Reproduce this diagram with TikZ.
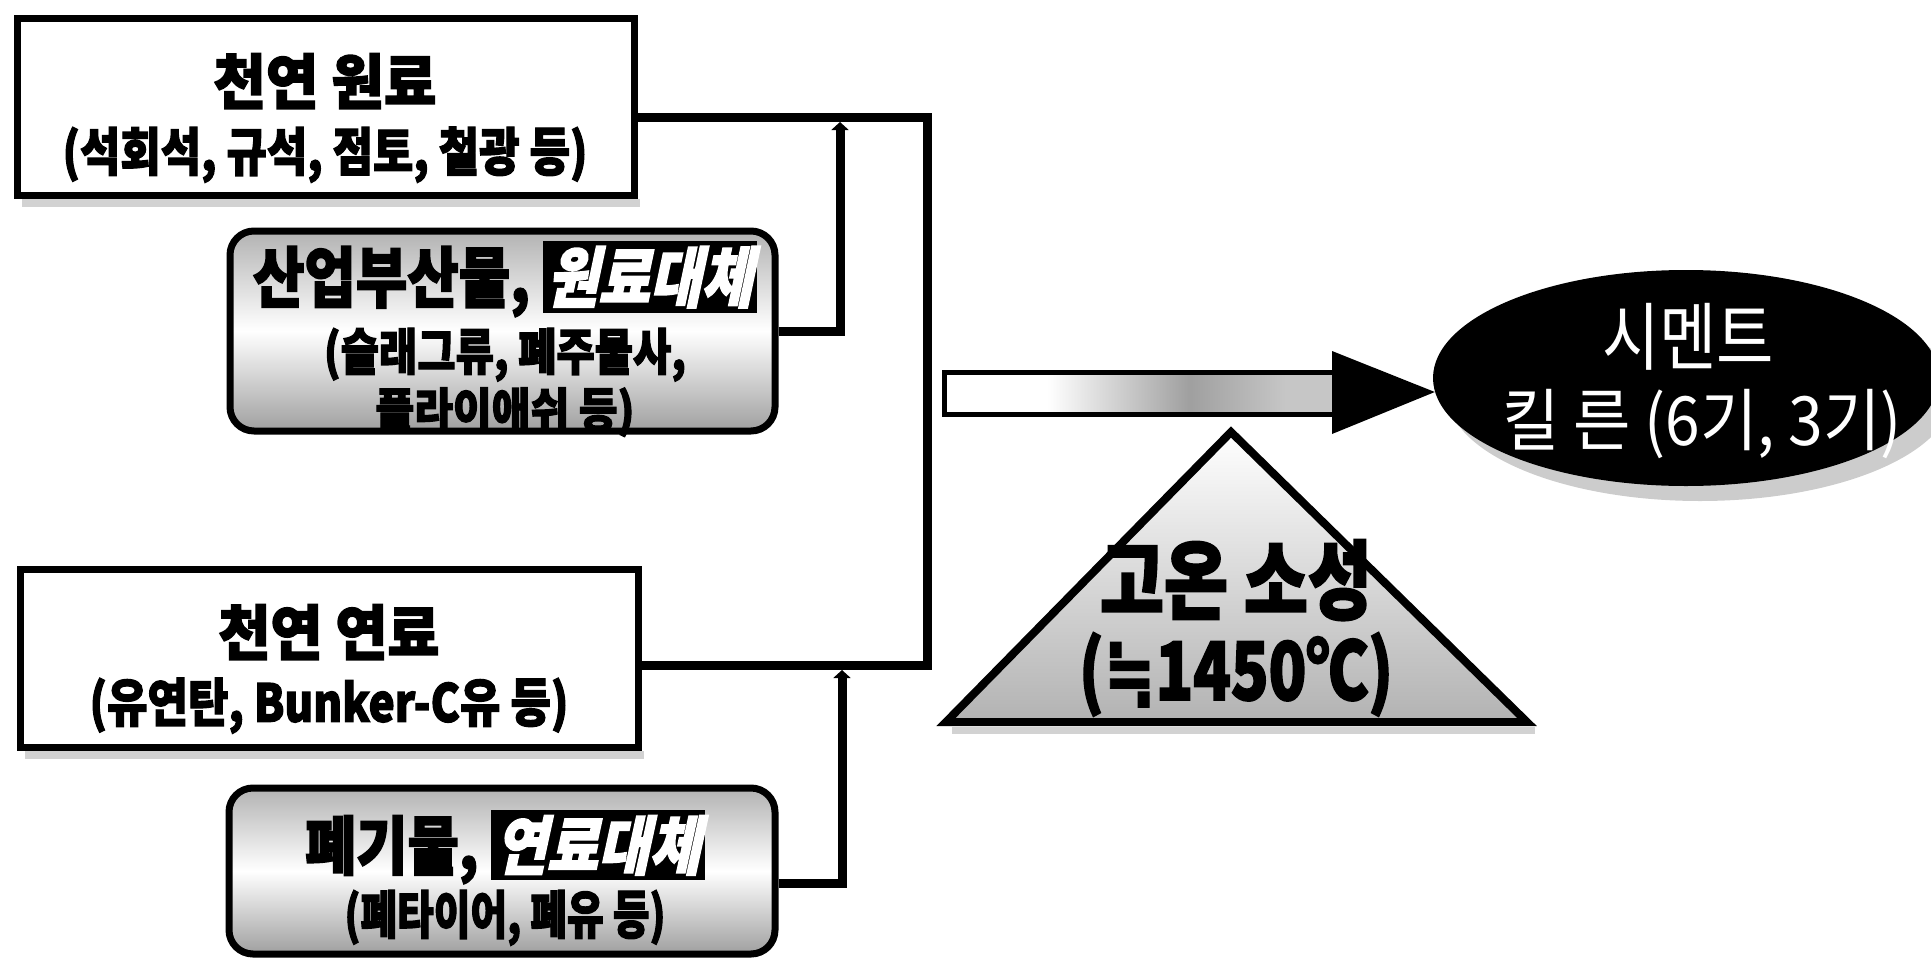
\documentclass[tikz,border=0pt]{standalone}
\usepackage{fontspec}
\usepackage{graphicx}
\usetikzlibrary{shapes.geometric,arrows.meta,calc}
\newfontfamily\kr{Noto Sans CJK KR}[BoldFeatures={FakeBold=2.5}]
\newfontfamily\krsl{Noto Sans CJK KR}[FakeSlant=0.25,BoldFeatures={FakeBold=2.5}]
\newfontfamily\dv{DejaVu Sans}[BoldFeatures={FakeBold=1.5}]
\newcommand\fl[3]{\resizebox{#1pt}{\height}{\fontsize{#2pt}{#2pt}\selectfont #3}}
\newcommand\hl[1]{{\fboxsep=5pt\colorbox{black}{\krsl\bfseries\color{white}#1}}}
\pgfdeclarehorizontalshading{shaftshade}{100bp}{color(0bp)=(white); color(38bp)=(white); color(56bp)=(gray!75); color(68bp)=(gray!45); color(100bp)=(gray!45)}
\begin{document}
\begin{tikzpicture}[x=1pt,y=-1pt,
  conn/.style={line width=9pt},
  plainbox/.style={draw, line width=7pt, fill=white, inner sep=0pt},
  roundbox/.style={draw, line width=7pt, rounded corners=24pt, top color=gray!60, bottom color=gray!75, middle color=white, inner sep=0pt},
  lbl/.style={inner sep=0pt, align=center, font=\kr\bfseries},
  shadowband/.style={fill=gray!35},
  jtip/.style={-{Triangle[length=8pt,width=17pt]}}
]
\path[use as bounding box] (0,0) rectangle (1931,961);

% shadows
\fill[shadowband] (22,199) rectangle (640,207);
\fill[shadowband] (25,751) rectangle (644,759);
\fill[shadowband] (952,727) rectangle (1535,734);
\node[ellipse, fill=gray!40, minimum width=506pt, minimum height=216pt, inner sep=0pt] (kilnshadow) at (1700,393) {};

% boxes
\node[plainbox, minimum width=617pt, minimum height=177pt] (b1) at (325.5,106.5) {};
\node[roundbox, minimum width=545pt, minimum height=200pt] (b2) at (502.5,331) {};
\node[plainbox, minimum width=618pt, minimum height=178pt] (b3) at (329,658) {};
\node[roundbox, minimum width=546pt, minimum height=166pt] (b4) at (502,871) {};

% texts
\node[lbl] (t1) at (325,118) {\fl{223}{60}{천연 원료}\\[17pt]\fl{525}{52}{(석회석, 규석, 점토, 철광 등)}};
\node[lbl] (t2) at (505,339) {\fl{504}{66}{산업부산물, \hl{원료대체}}\\[10pt]\fl{362}{50}{(슬래그류, 폐주물사,}\\[5pt]\fl{259}{47}{플라이애쉬 등)}};
\node[lbl] (t3) at (329,669) {\fl{221}{60}{천연 연료}\\[17pt]\fl{479}{52}{(유연탄, Bunker-C유 등)}};
\node[lbl] (t4) at (505,878) {\fl{400}{64}{폐기물, \hl{연료대체}}\\[5pt]\fl{321}{52}{(폐타이어, 폐유 등)}};

% connectors
\draw[conn] ($(b1.east)+(0,10.5)$) -| (927,665) -- ($(b3.east)+(0,7)$);
\draw[conn, jtip] (b2.east) -| (840,122);
\draw[conn, jtip] ($(b4.east)+(0,12)$) -| (842,670);

% kiln
\node[ellipse, fill=black, minimum width=506pt, minimum height=216pt, inner sep=0pt] (kiln) at (1686,378) {};
\node[lbl, font=\kr, text=white] (kt) at (1695,381) {\fl{172}{74}{시멘트}\hspace*{14pt}\\[18pt]\hspace*{14pt}\fl{400}{68}{킬 른 (6기, 3기)}};

% big arrow
\coordinate (ain) at (944,393);
\draw[line width=5pt, shading=shaftshade] (944,372) rectangle (1340,414);
\fill ($(ain)+(388,-42)$) -- ($(kiln.west)+(2,14)$) -- ($(ain)+(388,41)$) -- cycle;

% triangle
\draw[line width=8pt, line join=miter, top color=white, bottom color=gray!60] (1231,432) -- (1527,722) -- (946,722) -- cycle;
\node[lbl] (tt) at (1236,628) {\fl{272}{86}{고온 소성}\\[11pt]\fl{314}{80}{({\dv\bfseries ≒}1450℃)}};
\end{tikzpicture}
\end{document}
